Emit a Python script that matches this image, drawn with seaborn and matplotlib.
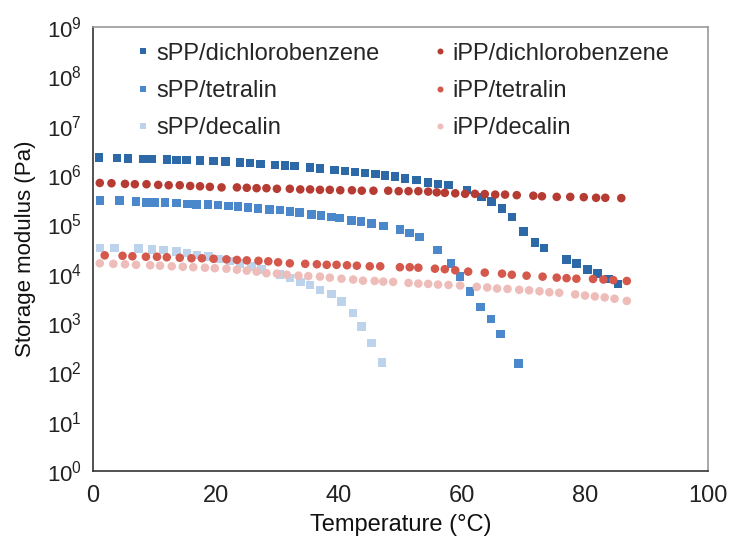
import pandas as pd
import matplotlib.pyplot as plt
import matplotlib.ticker as mticker
import seaborn as sns

# Data (temperature in C, storage modulus in Pa)
spp_dcb_T = [1.0, 3.9, 5.7, 8.2, 9.5, 12.0, 13.6, 15.2, 17.4, 19.6, 21.5, 23.9, 25.5, 27.2,
             29.6, 31.2, 32.8, 35.3, 36.9, 39.3, 41.0, 42.6, 44.2, 45.9, 47.5, 49.1, 50.7,
             52.6, 54.5, 56.1, 57.8, 60.8, 63.2, 64.8, 66.5, 68.1, 70.0, 71.9, 73.3, 77.0,
             78.6, 80.4, 82.0, 83.8, 85.4]
spp_dcb_G = [2.24e6, 2.19e6, 2.14e6, 2.09e6, 2.09e6, 2.04e6, 2.0e6, 2.0e6, 1.95e6, 1.91e6,
             1.86e6, 1.78e6, 1.74e6, 1.66e6, 1.58e6, 1.55e6, 1.51e6, 1.41e6, 1.35e6, 1.26e6,
             1.20e6, 1.15e6, 1.10e6, 1.05e6, 9.8e5, 9.3e5, 8.5e5, 7.9e5, 7.1e5, 6.6e5, 6.3e5,
             5.0e5, 3.6e5, 2.9e5, 2.1e5, 1.4e5, 7.1e4, 4.3e4, 3.3e4, 1.95e4, 1.6e4, 1.2e4,
             1.0e4, 7.8e3, 6.2e3]

spp_tet_T = [1.1, 4.3, 7.0, 8.7, 10.0, 11.7, 13.6, 15.4, 16.8, 18.7, 20.3, 22.0, 23.6, 25.2,
             26.8, 28.7, 30.4, 32.0, 33.6, 35.5, 37.1, 38.8, 40.1, 42.0, 43.6, 45.3, 47.2,
             49.9, 51.5, 53.1, 56.0, 58.2, 59.7, 61.3, 63.0, 64.7, 66.3, 69.2]
spp_tet_G = [3.0e5, 3.0e5, 2.9e5, 2.8e5, 2.8e5, 2.75e5, 2.7e5, 2.6e5, 2.55e5, 2.5e5, 2.45e5,
             2.35e5, 2.3e5, 2.2e5, 2.1e5, 2.0e5, 1.95e5, 1.8e5, 1.75e5, 1.6e5, 1.5e5, 1.4e5,
             1.35e5, 1.2e5, 1.15e5, 1.05e5, 9.3e4, 7.8e4, 6.6e4, 5.5e4, 3.0e4, 1.6e4, 8.7e3,
             4.4e3, 2.1e3, 1.2e3, 6.0e2, 1.5e2]

spp_dec_T = [1.1, 3.5, 7.4, 9.6, 11.5, 13.6, 15.3, 16.9, 18.8, 20.4, 22.3, 23.9, 25.8, 27.4,
             30.4, 32.0, 33.7, 35.3, 36.9, 38.8, 40.4, 42.3, 43.7, 45.3, 47.0]
spp_dec_G = [3.3e4, 3.3e4, 3.2e4, 3.1e4, 3.0e4, 2.8e4, 2.6e4, 2.4e4, 2.2e4, 2.0e4, 1.8e4,
             1.6e4, 1.4e4, 1.2e4, 9.5e3, 8.1e3, 6.8e3, 5.9e3, 4.7e3, 3.9e3, 2.7e3, 1.6e3,
             8.5e2, 3.9e2, 1.6e2]

ipp_dcb_T = [1.1, 3.0, 5.2, 6.8, 8.7, 10.6, 12.3, 14.1, 15.8, 17.4, 19.0, 20.9, 23.4, 25.0,
             26.6, 28.2, 29.9, 32.0, 33.7, 35.3, 36.9, 38.5, 40.2, 42.1, 43.7, 45.6, 48.0,
             49.7, 51.3, 52.9, 54.5, 55.9, 57.2, 58.9, 60.5, 62.1, 63.7, 65.4, 67.0, 68.9,
             71.6, 73.0, 75.4, 77.6, 79.8, 81.8, 83.3, 85.9]
ipp_dcb_G = [6.9e5, 6.8e5, 6.6e5, 6.5e5, 6.5e5, 6.3e5, 6.2e5, 6.2e5, 6.0e5, 5.9e5, 5.75e5,
             5.6e5, 5.6e5, 5.5e5, 5.4e5, 5.4e5, 5.25e5, 5.25e5, 5.1e5, 5.1e5, 5.0e5, 5.0e5,
             4.9e5, 4.9e5, 4.8e5, 4.8e5, 4.8e5, 4.7e5, 4.7e5, 4.7e5, 4.6e5, 4.45e5, 4.35e5,
             4.25e5, 4.15e5, 4.15e5, 4.1e5, 4.0e5, 4.0e5, 3.9e5, 3.8e5, 3.7e5, 3.6e5, 3.6e5,
             3.55e5, 3.45e5, 3.45e5, 3.4e5]

ipp_tet_T = [1.9, 4.8, 6.4, 8.6, 10.4, 12.0, 14.1, 16.0, 17.7, 19.6, 21.7, 23.4, 25.0, 26.9,
             28.5, 30.1, 32.0, 34.5, 36.4, 38.0, 39.6, 41.3, 42.9, 45.0, 46.7, 49.9, 51.5,
             52.9, 55.6, 57.2, 58.9, 61.0, 63.7, 66.5, 68.1, 70.5, 73.1, 75.4, 77.0, 78.6,
             81.3, 83.0, 84.6, 86.8]
ipp_tet_G = [2.35e4, 2.3e4, 2.25e4, 2.2e4, 2.2e4, 2.15e4, 2.1e4, 2.05e4, 2.05e4, 2.0e4,
             1.95e4, 1.9e4, 1.86e4, 1.82e4, 1.78e4, 1.7e4, 1.62e4, 1.58e4, 1.55e4, 1.51e4,
             1.51e4, 1.48e4, 1.45e4, 1.41e4, 1.41e4, 1.35e4, 1.35e4, 1.32e4, 1.26e4, 1.23e4,
             1.17e4, 1.1e4, 1.05e4, 1.0e4, 9.5e3, 9.1e3, 8.7e3, 8.3e3, 8.1e3, 7.9e3, 7.8e3,
             7.6e3, 7.4e3, 7.1e3]

ipp_dec_T = [1.1, 3.3, 5.2, 7.0, 9.3, 10.9, 12.8, 14.6, 16.3, 18.2, 19.8, 21.7, 23.4, 25.0,
             26.6, 28.2, 29.9, 31.5, 33.4, 35.0, 36.9, 38.5, 40.4, 42.3, 43.9, 45.8, 47.2,
             48.8, 51.3, 52.9, 54.5, 56.1, 57.8, 59.7, 62.4, 64.1, 65.7, 67.4, 69.3, 70.9,
             72.6, 74.2, 75.8, 78.4, 80.0, 81.6, 83.2, 84.8, 86.8]
ipp_dec_G = [1.62e4, 1.58e4, 1.55e4, 1.51e4, 1.48e4, 1.45e4, 1.41e4, 1.38e4, 1.35e4, 1.32e4,
             1.29e4, 1.26e4, 1.2e4, 1.15e4, 1.1e4, 1.02e4, 1.0e4, 9.5e3, 9.1e3, 8.9e3, 8.7e3,
             8.3e3, 7.9e3, 7.6e3, 7.2e3, 7.1e3, 6.9e3, 6.8e3, 6.5e3, 6.3e3, 6.2e3, 6.0e3,
             5.9e3, 5.75e3, 5.4e3, 5.25e3, 5.0e3, 4.9e3, 4.7e3, 4.6e3, 4.4e3, 4.2e3, 4.1e3,
             3.8e3, 3.6e3, 3.45e3, 3.3e3, 3.1e3, 2.8e3]

series = {
    "sPP/dichlorobenzene": (spp_dcb_T, spp_dcb_G),
    "sPP/tetralin": (spp_tet_T, spp_tet_G),
    "sPP/decalin": (spp_dec_T, spp_dec_G),
    "iPP/dichlorobenzene": (ipp_dcb_T, ipp_dcb_G),
    "iPP/tetralin": (ipp_tet_T, ipp_tet_G),
    "iPP/decalin": (ipp_dec_T, ipp_dec_G),
}
order = list(series.keys())

colors = {
    "sPP/dichlorobenzene": "#2d69a7",
    "sPP/tetralin": "#4a88cb",
    "sPP/decalin": "#bcd3eb",
    "iPP/dichlorobenzene": "#b63b32",
    "iPP/tetralin": "#d5584c",
    "iPP/decalin": "#eebdb9",
}
markers = {k: ("s" if k.startswith("sPP") else "o") for k in order}

df = pd.concat(
    [pd.DataFrame({"Temperature": t, "Modulus": g, "Sample": name})
     for name, (t, g) in series.items()],
    ignore_index=True,
)

sns.set_style("white")
plt.rcParams["font.family"] = ["Liberation Sans", "DejaVu Sans"]
plt.rcParams["mathtext.default"] = "regular"

fig = plt.figure(figsize=(7.29, 5.45), dpi=100)
ax = fig.add_axes([0.1276, 0.1358, 0.8436, 0.8147])

sns.scatterplot(data=df, x="Temperature", y="Modulus", hue="Sample", style="Sample",
                hue_order=order, style_order=order, palette=colors, markers=markers,
                s=38, linewidth=0, ax=ax)

ax.set_yscale("log")
ax.set_ylim(1, 1e9)
ax.set_xlim(0, 100)
ax.yaxis.set_major_locator(mticker.LogLocator(base=10, numticks=12))
ax.yaxis.set_minor_locator(mticker.NullLocator())
ax.xaxis.set_major_locator(mticker.MultipleLocator(20))
ax.xaxis.set_minor_locator(mticker.MultipleLocator(10))

ax.tick_params(axis="x", which="major", direction="inout", length=8, width=1,
               labelsize=17, pad=6, colors="#222222")
ax.tick_params(axis="x", which="minor", direction="in", length=4, width=1, colors="#444444")
ax.tick_params(axis="y", which="major", direction="in", length=6, width=1,
               labelsize=16, pad=8, colors="#222222")

for side in ["left", "bottom"]:
    ax.spines[side].set_color("#333333")
    ax.spines[side].set_linewidth(1.2)
for side in ["top", "right"]:
    ax.spines[side].set_color("#999999")
    ax.spines[side].set_linewidth(1.2)

ax.set_xlabel("Temperature (°C)", fontsize=17, color="#111111", labelpad=5)
ax.set_ylabel("Storage modulus (Pa)", fontsize=16, color="#111111", labelpad=8)

handles, labels = ax.get_legend_handles_labels()
ax.legend(handles, labels, ncol=2, frameon=False, loc="upper left",
          bbox_to_anchor=(0.072, 0.965), fontsize=17, markerscale=0.7,
          handlelength=0.5, handletextpad=0.3, columnspacing=2.3,
          labelspacing=0.65, borderpad=0, borderaxespad=0)

fig.savefig("out.png", dpi=100)
